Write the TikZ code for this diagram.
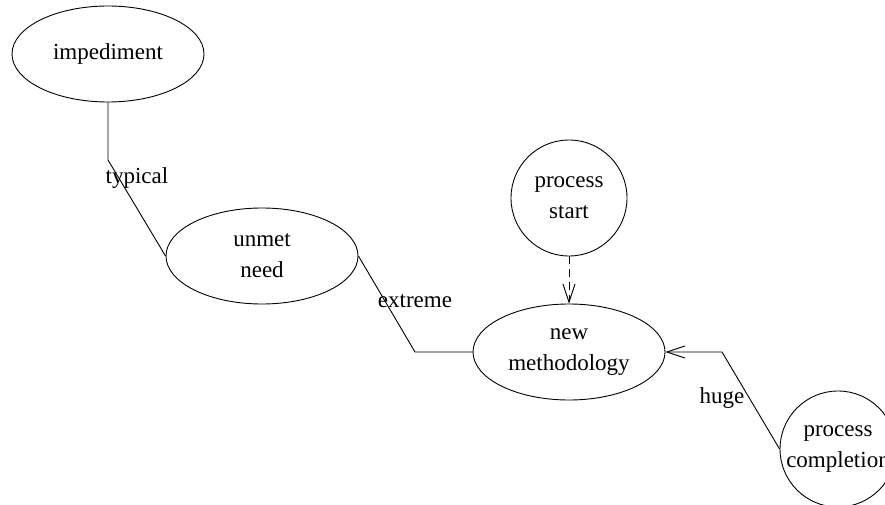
\documentclass[tikz,border=0pt]{standalone}
\usepackage{fontspec}
\setmainfont{Liberation Serif}
\usetikzlibrary{shapes.geometric,arrows.meta}
\begin{document}
\begin{tikzpicture}[x=1pt,y=-1pt,
  every node/.style={font=\fontsize{23}{31}\selectfont, align=center},
  ell/.style={draw, ellipse, minimum width=192pt, minimum height=96pt, inner sep=0pt, line width=0.9pt},
  circ/.style={draw, circle, minimum size=116pt, inner sep=0pt, line width=0.9pt},
  conn/.style={line width=0.9pt},
  lbl/.style={inner sep=0pt},
  barb/.style={-{Straight Barb[length=18pt,width=12pt,line width=0.9pt]}}
]
\useasboundingbox (0,0) rectangle (885,505);
\node[ell] (imp) at (108,54) {impediment};
\node[ell] (un) at (262,256) {unmet\\need};
\node[ell] (nm) at (569,352) {new\\methodology};
\node[circ] (ps) at (569,198) {process\\start};
\node[circ] (pc) at (838,449) {process\\completion};

\coordinate (c1) at (108,160);
\coordinate (c2) at (415,352);
\coordinate (c3) at (722,352);

\draw[conn] (imp.south) -- (c1) -- (un.west);
\draw[conn] (un.east) -- (c2) -- (nm.west);
\draw[conn, barb] (pc.west) -- (c3) -- (nm.east);
\draw[conn, barb, dash pattern=on 8pt off 5pt] (ps.south) -- (nm.north);

\node[lbl] (l1) at (137,178) {typical};
\node[lbl] (l2) at (415,301) {extreme};
\node[lbl] (l3) at (722,398) {huge};
\end{tikzpicture}
\end{document}
